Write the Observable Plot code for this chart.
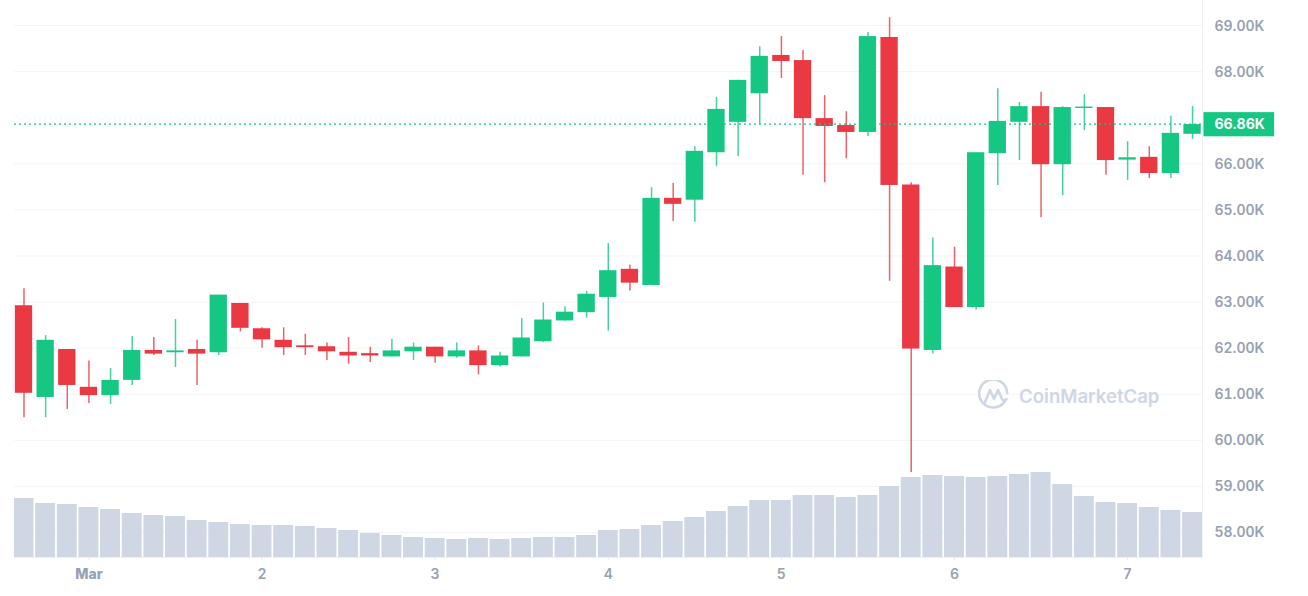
<!DOCTYPE html>
<html>
<head>
<meta charset="utf-8">
<script src="https://cdn.jsdelivr.net/npm/d3@7"></script>
<script src="https://cdn.jsdelivr.net/npm/@observablehq/plot@0.6"></script>
<style>
html,body{margin:0;padding:0;background:#fff;overflow:hidden}
#wrap{position:relative;width:1308px;height:596px;font-family:Inter,sans-serif}
#wrap > svg{position:absolute;left:0;top:0;background:transparent}
#mark{position:absolute;left:978px;top:380px;display:flex;align-items:center;gap:10px;color:#cfd6e4;font:600 18.6px Inter,sans-serif;white-space:nowrap}
</style>
</head>
<body>
<div id="wrap"></div>
<script>
const opens = [62.92,60.93,61.97,61.15,60.97,61.30,61.95,61.90,61.97,61.90,62.97,62.42,62.17,62.05,62.03,61.91,61.88,61.81,61.92,62.02,61.81,61.94,61.62,61.81,62.14,62.59,62.77,63.10,63.71,63.36,65.25,65.21,66.24,66.90,67.52,68.35,68.24,66.98,66.83,66.68,68.74,65.54,61.95,63.76,62.88,66.22,66.90,67.24,65.98,67.20,67.22,66.08,66.14,65.79,66.64];
const closes = [61.02,62.17,61.19,60.97,61.30,61.95,61.87,61.94,61.87,63.15,62.43,62.18,62.01,62.01,61.92,61.83,61.83,61.94,62.02,61.81,61.94,61.62,61.83,62.22,62.61,62.78,63.17,63.68,63.41,65.25,65.12,66.27,67.18,67.81,68.33,68.22,66.98,66.81,66.68,68.76,65.53,61.98,63.79,62.88,66.24,66.92,67.24,65.98,67.22,67.23,66.07,66.13,65.79,66.66,66.85];
const highs = [63.29,62.27,61.97,61.72,61.56,62.25,62.23,62.62,62.17,63.15,62.97,62.44,62.44,62.30,62.11,62.23,62.02,62.19,62.11,62.02,62.11,62.05,61.91,62.64,62.98,62.90,63.23,64.27,63.80,65.48,65.57,66.37,67.44,67.81,68.54,68.76,68.46,67.48,67.13,68.85,69.17,65.59,64.39,64.19,66.24,67.63,67.33,67.55,67.24,67.50,67.22,66.48,66.37,67.03,67.24];
const lows = [60.49,60.49,60.67,60.80,60.78,61.19,61.84,61.58,61.19,61.84,62.35,62.00,61.84,61.84,61.73,61.65,61.69,61.81,61.73,61.67,61.78,61.42,61.59,61.81,62.12,62.59,62.65,62.37,63.24,63.36,64.75,64.73,65.94,66.16,66.85,67.85,65.75,65.59,66.11,66.59,63.45,59.30,61.87,62.88,62.82,65.53,66.07,64.83,65.31,66.72,65.75,65.64,65.68,65.68,66.53];
const volumes = [59,54,53,50,48,44,42,41,37,35,33,32,32,31,29,27,24,22,20,19,18,19,18,19,20,20,22,27,28,32,36,40,46,51,57,57,62,62,60,62,71,80,82,81,80,81,83,85,73,61,55,54,50,47,45];
const priceTicks = [58,59,60,61,62,63,64,65,66,68,69];
const gridTicks = [58,59,60,61,62,63,64,65,66,68,69];
const dayTicks = [1,2,3,4,5,6,7];
const lastPrice = 66.86;
const lastBox = [66.585,67.11];

const HOUR = 3600e3;
const start = Date.UTC(2024,1,29,15);
const green = "#16c784", red = "#ea3943";
const candles = opens.map((o,i) => ({
  t:new Date(start+i*3*HOUR), open:o, close:closes[i], high:highs[i], low:lows[i], volume:volumes[i],
  top:Math.max(o,closes[i]), bottom:Math.min(o,closes[i]), color:closes[i]>=o?green:red
}));
const span = (t,h) => new Date(+t+h*HOUR);
const xDomain = [new Date(start-1.317*HOUR), new Date(start+163.38*HOUR)];
const common = {width:1308, height:596, marginLeft:14, marginRight:106, marginTop:0, marginBottom:39,
  style:{background:"transparent", fontFamily:"Inter,sans-serif", fontSize:"14px", fontWeight:600, color:"#98a1b3", overflow:"visible"}};

const price = Plot.plot({...common,
  x:{type:"utc", domain:xDomain, axis:null},
  y:{domain:[57.457,69.543]},
  marks:[
    Plot.ruleY(gridTicks,{stroke:"#f3f4f7",strokeWidth:1}),
    Plot.ruleX([xDomain[1]],{stroke:"#eff2f5",strokeWidth:1}),
    Plot.ruleX(candles,{x:"t",y1:"low",y2:"high",stroke:"color",strokeWidth:1.5,strokeOpacity:0.8,clip:true}),
    Plot.rect(candles,{x1:d=>span(d.t,-1.2),x2:d=>span(d.t,1.2),y1:"bottom",y2:"top",fill:"color",clip:true}),
    Plot.ruleY([lastPrice],{stroke:green,strokeWidth:1.2,strokeDasharray:"2 3"}),
    Plot.rect([lastPrice],{x1:()=>span(xDomain[1],0.2),x2:()=>span(xDomain[1],10),y1:()=>lastBox[0],y2:()=>lastBox[1],fill:green}),
    Plot.text([lastPrice],{x:()=>xDomain[1],y:d=>d,text:d=>d.toFixed(2)+"K",fill:"#fff",textAnchor:"start",dx:12,dy:0.5,fontSize:14,fontWeight:700,fontFamily:"Inter,sans-serif"}),
    Plot.axisY(priceTicks,{anchor:"right",tickSize:0,tickPadding:12,label:null,dy:0.5,tickFormat:d=>d.toFixed(2)+"K"})
  ]
});

const volume = Plot.plot({...common,
  x:{type:"utc", domain:xDomain},
  y:{domain:[0,557],axis:null},
  marks:[
    Plot.rect(candles,{x1:d=>span(d.t,-1.38),x2:d=>span(d.t,1.38),y1:0,y2:"volume",fill:"#cfd6e4",clip:true}),
    Plot.ruleY([0],{stroke:"#eff2f5",strokeWidth:1}),
    Plot.axisX(dayTicks.map(d=>new Date(Date.UTC(2024,2,d))),{anchor:"bottom",tickSize:3,tickPadding:9,stroke:"#e6e9ef",label:null,tickFormat:d=>d.getUTCDate()===1?"Mar":String(d.getUTCDate())})
  ]
});

const wrap = document.getElementById("wrap");
wrap.append(price, volume);
d3.select(volume).selectAll("text").filter(function(){return this.textContent==="Mar"}).style("font-weight",800);

const mark = document.createElement("div");
mark.id = "mark";
mark.innerHTML = '<svg width="31" height="31" viewBox="0 0 31 31" fill="none" stroke="#cfd6e4" stroke-width="2.6" stroke-linecap="round" stroke-linejoin="round"><path d="M27 21A14 14 0 1 1 29.2 13"/><path d="M7 22L12 10L16 19L20 10L24 19C25 21 27 21 28.5 19"/></svg><span>CoinMarketCap</span>';
wrap.append(mark);
</script>
</body>
</html>
